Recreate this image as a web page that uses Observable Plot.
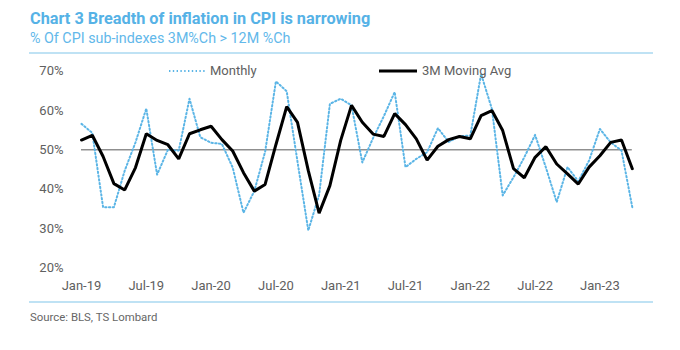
<!DOCTYPE html>
<html><head><meta charset="utf-8">
<script src="https://cdn.jsdelivr.net/npm/d3@7"></script>
<script src="https://cdn.jsdelivr.net/npm/@observablehq/plot@0.6"></script>
<style>
body{margin:0;background:#fff;font-family:Roboto,sans-serif;}
#wrap{position:relative;width:680px;height:350px;overflow:hidden;background:#fff;}
#title{position:absolute;left:30px;top:9px;font-size:16.3px;font-weight:700;color:#56B2E6;white-space:nowrap;}
#sub{position:absolute;left:30px;top:30px;font-size:14.3px;color:#62B8EA;white-space:nowrap;}
.rule{position:absolute;left:29px;width:624px;height:2px;background:#BFE2F4;}
#chart{position:absolute;left:0;top:55px;}
#src{position:absolute;left:30px;top:310px;font-size:11.4px;color:#666;white-space:nowrap;}
.leg{position:absolute;top:63px;height:16px;font-size:13px;color:#606060;white-space:nowrap;line-height:16px;}
.leg svg{position:absolute;top:0;}
</style></head>
<body>
<div id="wrap">
  <div id="title">Chart 3 Breadth of inflation in CPI is narrowing</div>
  <div id="sub">% Of CPI sub-indexes 3M%Ch &gt; 12M %Ch</div>
  <div class="rule" style="top:52px"></div>
  <div id="chart"></div>
  <div class="leg" style="left:168px;width:120px;">
    <svg width="38" height="16"><line x1="1" y1="8" x2="37" y2="8" stroke="#5BB5E6" stroke-width="2" stroke-dasharray="1.4 2.4"/></svg>
    <span style="position:absolute;left:42px;">Monthly</span>
  </div>
  <div class="leg" style="left:379px;width:160px;">
    <svg width="38" height="16"><line x1="0" y1="8" x2="38" y2="8" stroke="#000" stroke-width="3"/></svg>
    <span style="position:absolute;left:43px;">3M Moving Avg</span>
  </div>
  <div class="rule" style="top:301px"></div>
  <div id="src">Source: BLS, TS Lombard</div>
</div>
<script>
const months = ["Jan-19","Feb-19","Mar-19","Apr-19","May-19","Jun-19","Jul-19","Aug-19","Sep-19","Oct-19","Nov-19","Dec-19",
"Jan-20","Feb-20","Mar-20","Apr-20","May-20","Jun-20","Jul-20","Aug-20","Sep-20","Oct-20","Nov-20","Dec-20",
"Jan-21","Feb-21","Mar-21","Apr-21","May-21","Jun-21","Jul-21","Aug-21","Sep-21","Oct-21","Nov-21","Dec-21",
"Jan-22","Feb-22","Mar-22","Apr-22","May-22","Jun-22","Jul-22","Aug-22","Sep-22","Oct-22","Nov-22","Dec-22",
"Jan-23","Feb-23","Mar-23","Apr-23"];
const monthly = [56.6,54.3,35.4,35.4,44.7,51.9,60.5,43.7,50.0,49.8,63.0,53.2,
51.8,51.5,45.5,34.0,39.5,49.5,67.4,64.9,47.0,29.5,38.5,61.7,
63.0,61.3,46.8,53.0,58.6,64.7,45.6,47.7,49.4,55.5,52.0,53.5,
53.6,69.3,60.4,38.4,43.0,48.1,53.8,45.5,36.7,45.6,42.0,47.3,
55.3,51.9,49.8,35.4];
const movingAvg = [52.5,53.7,48.3,41.4,39.8,45.5,54.1,52.4,51.3,47.7,54.1,55.1,
56.0,52.6,49.7,44.2,39.5,41.2,51.3,61.0,57.0,44.7,33.9,40.9,
52.4,61.3,57.0,54.0,53.4,59.2,56.4,52.8,47.4,50.9,52.6,53.4,
52.8,58.7,60.0,54.9,45.2,42.9,48.1,50.8,46.4,43.9,41.3,45.6,
48.5,51.9,52.5,45.2];
const xTicks = [0,6,12,18,24,30,36,42,48];
const yTicks = [20,30,40,50,60,70];
const refLevel = [50];

const data = months.map((m,i)=>({i, m, monthly: monthly[i], ma: movingAvg[i]}));

const chart = Plot.plot({
  width: 680, height: 245,
  marginLeft: 81, marginRight: 48.2, marginTop: 15.7, marginBottom: 32.7,
  style: {fontFamily: "Roboto, sans-serif", fontSize: "13px", color: "#606060", background: "transparent", overflow: "visible"},
  x: {type: "linear", domain: [0, 51], axis: null},
  y: {domain: [20, 70], axis: null},
  marks: [
    Plot.axisX(xTicks, {tickFormat: i => months[i], tickSize: 0, tickPadding: 13, label: null, fill: "#606060"}),
    Plot.axisY(yTicks, {tickFormat: d => d + "%", tickSize: 0, tickPadding: 18, label: null, fill: "#606060"}),
    Plot.ruleY(refLevel, {stroke: "#595959", strokeWidth: 1}),
    Plot.line(data, {x: "i", y: "monthly", stroke: "#5BB5E6", strokeWidth: 2, strokeDasharray: "1.4 2.4"}),
    Plot.line(data, {x: "i", y: "ma", stroke: "#000", strokeWidth: 3, strokeLinejoin: "miter"})
  ]
});
document.getElementById("chart").appendChild(chart);
</script>
</body></html>
